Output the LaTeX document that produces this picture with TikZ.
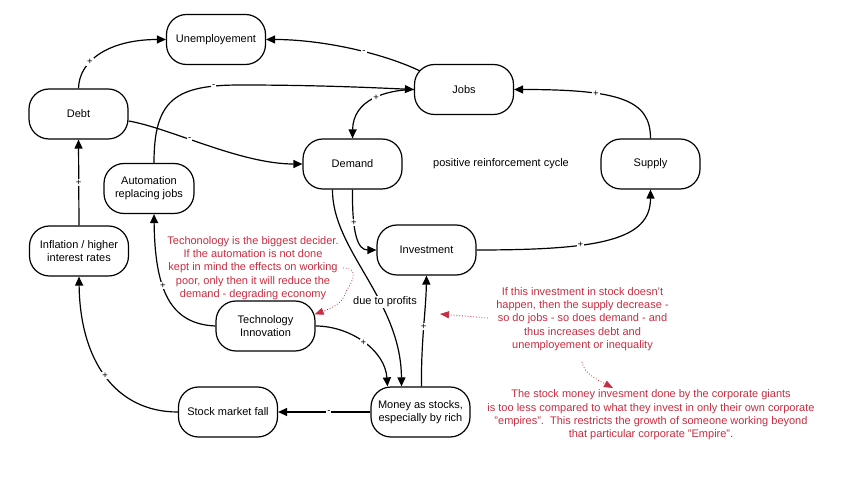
\documentclass[tikz,border=0pt]{standalone}
\usepackage{fontspec}
\setmainfont{Liberation Sans}
\usetikzlibrary{arrows.meta,calc}
\definecolor{redtext}{RGB}{200,45,65}
\begin{document}
\begin{tikzpicture}[x=1pt,y=-1pt,
  box/.style={draw, line width=1.2pt, rounded corners=20pt, minimum width=99pt, minimum height=50pt, align=center, font=\fontsize{11}{13}\selectfont, inner sep=2pt},
  link/.style={line width=1.2pt, -{Triangle[length=9pt,width=8pt]}},
  sign/.style={fill=white, inner sep=1pt, font=\fontsize{9.5}{9.5}\selectfont},
  note/.style={text=redtext, align=center, font=\fontsize{11}{13.3}\selectfont},
  pointer/.style={redtext, dotted, line width=0.8pt, -{Triangle[length=9pt,width=7pt]}}
]
\useasboundingbox (0,0) rectangle (852,502);
\fill[white] (0,0) rectangle (852,502);

% nodes
\node[box] (unemp) at (216,39.5) {Unemployement};
\node[box] (jobs) at (464,89.5) {Jobs};
\node[box] (debt) at (78.5,114) {Debt};
\node[box] (demand) at (352.5,164) {Demand};
\node[box] (supply) at (650.5,164) {Supply};
\node[box, minimum width=90pt] (autom) at (149,188.5) {Automation\\replacing jobs};
\node[box] (infl) at (79,251) {Inflation / higher\\interest rates};
\node[box] (invest) at (426.5,250) {Investment};
\node[box] (tech) at (265.5,326) {Technology\\Innovation};
\node[box] (stock) at (228,412) {Stock market fall};
\node[box] (money) at (420.5,412) {Money as stocks,\\especially by rich};

\node[font=\fontsize{11}{13}\selectfont] (cycle) at (501,164) {positive reinforcement cycle};

% connectors
\draw[link] (debt.north) .. controls (79,60) and (110,39.5) .. (unemp.west) node[sign,pos=0.35]{+};
\draw[link] ($(jobs.north west)+(6,7)$) .. controls (380,52) and (320,39.5) .. (unemp.east) node[sign,pos=0.4]{-};
\draw[link] ($(autom.north)+(5,0)$) .. controls (154,100) and (175,85) .. (240,85) node[sign,pos=0.85]{-} .. controls (320,85) and (380,88) .. (jobs.west);
\draw[link] (jobs.west) .. controls (385,90) and (353,100) .. (demand.north) node[sign,pos=0.45]{+};
\draw[link] ($(debt.east)+(0,7)$) .. controls (170,128) and (240,164) .. (demand.west) node[sign,pos=0.4]{-};
\draw[link] (infl.north) -- (debt.south) node[sign,midway]{+};
\draw[link] (tech.west) .. controls (170,324) and (155,290) .. ($(autom.south)+(5,0)$) node[sign,pos=0.6]{+};
\draw[link] (tech.east) .. controls (350,326) and (385,350) .. ($(money.north)+(-33,0)$) node[sign,pos=0.5]{+};
\draw[link] ($(demand.south)+(-20,0)$) .. controls (332,250) and (401,300) .. ($(money.north)+(-19,0)$);
\node[fill=white, inner sep=1pt, font=\fontsize{11}{13}\selectfont] (profits) at (385,302) {due to profits};
\draw[link] (demand.south) .. controls (352,235) and (358,250) .. (invest.west) node[sign,pos=0.3]{+};
\draw[link] ($(money.north)+(1,0)$) .. controls (421,340) and (426,310) .. (invest.south) node[sign,pos=0.5]{+};
\draw[link] (invest.east) .. controls (600,250) and (650.5,240) .. (supply.south) node[sign,pos=0.35]{+};
\draw[link] (supply.north) .. controls (650.5,100) and (620,89.5) .. (jobs.east) node[sign,pos=0.67]{+};
\draw[link] (money.west) -- (stock.east) node[sign,pos=0.45]{-};
\draw[link] (stock.west) .. controls (115,412) and (80,360) .. (infl.south) node[sign,pos=0.5]{+};

% notes
\node[note] (note1) at (253,268) {Techonology is the biggest decider.\\If the automation is not done\\kept in mind the effects on working\\poor, only then it will reduce the\\demand - degrading economy};
\node[note] (note2) at (582.5,319) {If this investment in stock doesn't\\happen, then the supply decrease -\\so do jobs - so does demand - and\\thus increases debt and\\unemployement or inequality};
\node[note] (note3) at (651,415) {The stock money invesment done by the corporate giants\\is too less compared to what they invest in only their own corporate\\"empires".\ \ This restricts the growth of someone working beyond\\that particular corporate "Empire".};

% red pointers
\coordinate (pa) at (343,268);
\coordinate (pb) at (488,318);
\coordinate (pbt) at (440,314);
\coordinate (pc) at (582,362);
\coordinate (pct) at (613,388);
\draw[pointer] (pa) .. controls (360,268) and (352,282) .. (347,290) .. controls (343,297) and (345,303) .. ($(tech.north east)+(-1,14)$);
\draw[pointer] (pb) -- (pbt);
\draw[pointer] (pc) .. controls (584,374) and (598,380) .. (pct);
\end{tikzpicture}
\end{document}
